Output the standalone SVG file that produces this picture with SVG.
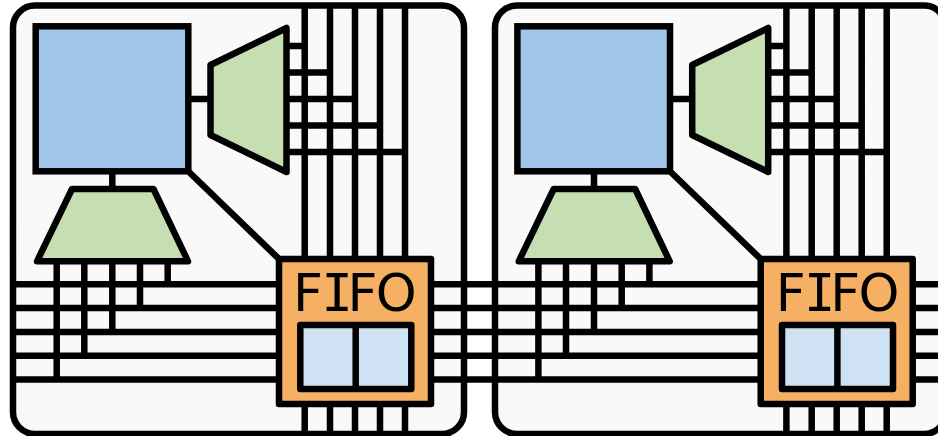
<svg xmlns="http://www.w3.org/2000/svg" width="938" height="436" viewBox="0 0 938 436">
<style>
.w{fill:none;stroke:#000;stroke-width:6.500}
.panel{fill:#f9f9f9;stroke:#000;stroke-width:6.500}
.cpu{fill:#9fc5e8;stroke:#000;stroke-width:6.500}
.mux{fill:#c6dfb2;stroke:#000;stroke-width:6.500;stroke-linejoin:round}
.fifo{fill:#f6b064;stroke:#000;stroke-width:6.500;stroke-linejoin:round}
.buf{fill:#cfe2f3;stroke:#000;stroke-width:6.500;stroke-linejoin:round}
.t{font-family:"DejaVu Sans",sans-serif;font-size:52px;fill:#000;letter-spacing:-1.500px}
.m{font-family:"DejaVu Sans Mono",monospace;letter-spacing:-5.300px}
</style>
<defs>
<path id="wires" class="w" d="M304.700 5V434M330 5V434M355 5V434M380 5V434M405 5V434M286 46H304.700M286 72.500H330M286 99H355M286 125.500H380M286 152H405M188 99H210.500M112.300 171V189M188 171L279 259M56.700 261V379.500M84.300 261V355.700M112.300 261V332M140 261V308M167.700 261V284.300"/>
</defs>
<g id="panel-1"><rect class="panel" x="13" y="5.500" width="451" height="428.500" rx="22"/></g>
<g id="panel-2"><rect class="panel" x="495" y="5.500" width="451" height="428.500" rx="22"/></g>
<g id="connectors">
<use href="#wires"/>
<use href="#wires" x="481.700"/>
<path class="w" d="M13 284.300H938M13 308H938M13 332H938M13 355.700H938M13 379.500H938"/>
</g>
<g id="cpu-1"><rect class="cpu" x="35.700" y="26.300" width="152.600" height="145"/></g>
<g id="demux-1"><path class="mux" d="M210.500 65L286.500 28V172L210.500 135Z"/></g>
<g id="mux-1"><path class="mux" d="M72 189H153.500L188 261.300H37Z"/></g>
<g id="fifo-1">
<rect class="fifo" x="279" y="259" width="152" height="145"/>
<text class="t" x="293" y="311">F<tspan class="m">I</tspan>FO</text>
<rect class="buf" x="300.300" y="325" width="111" height="64"/>
<path class="w" d="M355.700 325V389"/>
</g>
<g id="cpu-2"><rect class="cpu" x="517.400" y="26.300" width="152.600" height="145"/></g>
<g id="demux-2"><path class="mux" d="M692.200 65L768.200 28V172L692.200 135Z"/></g>
<g id="mux-2"><path class="mux" d="M553.700 189H635.200L669.700 261.300H518.700Z"/></g>
<g id="fifo-2">
<rect class="fifo" x="760.700" y="259" width="152" height="145"/>
<text class="t" x="775.700" y="311">F<tspan class="m">I</tspan>FO</text>
<rect class="buf" x="782" y="325" width="111" height="64"/>
<path class="w" d="M837.400 325V389"/>
</g>
</svg>
